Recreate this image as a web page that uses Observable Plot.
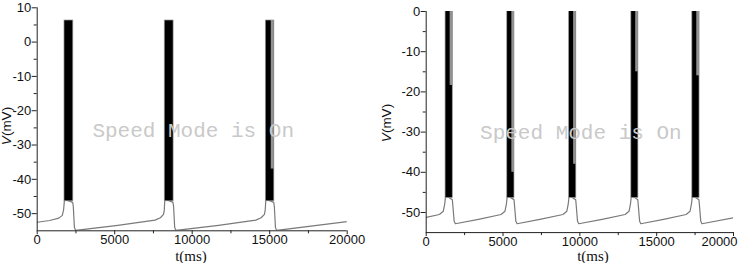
<!DOCTYPE html>
<html>
<head>
<meta charset="utf-8">
<script src="https://cdn.jsdelivr.net/npm/d3@7"></script>
<script src="https://cdn.jsdelivr.net/npm/@observablehq/plot@0.6"></script>
<style>
  html, body { margin: 0; padding: 0; background: #fff; }
  #wrap { position: relative; width: 748px; height: 263px; overflow: hidden; font-family: "Liberation Sans", Arial, sans-serif; }
  .panel { position: absolute; top: 0; }
  .ylab { position: absolute; font-size: 13.5px; color: #111; white-space: nowrap; transform: translate(-50%, -50%) rotate(-90deg); }
  .xlab { position: absolute; font-family: "Liberation Serif", "Times New Roman", serif; font-size: 15px; line-height: 12px; color: #111; white-space: nowrap; transform: translate(-50%, -50%); }
</style>
</head>
<body>
<div id="wrap">
  <div class="panel" id="left" style="left:0px"></div>
  <div class="panel" id="right" style="left:374px"></div>
  <div class="ylab" style="left:6px; top:126px;"><i>V</i>(mV)</div>
  <div class="ylab" style="left:386px; top:123px;"><i>V</i>(mV)</div>
  <div class="xlab" style="left:191px; top:256px;">t(ms)</div>
  <div class="xlab" style="left:593px; top:256px;">t(ms)</div>
</div>
<script>
// ---------- Left panel data ----------
const leftT = [0, 800, 1400, 1620, 1700, 1760, 1800, 2000, 2290, 2330, 2400, 2480, 5200, 7600, 7950, 8150, 8200, 8230, 8270, 8500, 8760, 8800, 8870, 8950, 11700, 14100, 14450, 14660, 14710, 14750, 14790, 15000, 15260, 15300, 15370, 15450, 20000];
const leftV = [-52.5, -52.0, -51.3, -50.5, -49.0, -46.0, -45.8, -46.2, -46.7, -48.0, -54.0, -54.9, -53.4, -51.9, -51.2, -50.2, -49.0, -46.0, -45.8, -46.2, -46.7, -48.0, -54.0, -54.9, -53.4, -51.9, -51.2, -50.2, -49.0, -46.0, -45.8, -46.2, -46.7, -48.0, -54.0, -54.9, -52.3];
const leftBurstStart = [1760, 8230, 14750];
const leftBurstEnd = [2330, 8800, 15300];
const leftSpikeTop = 6.3;
const leftSpikeBottom = -46.4;
const leftStripStart = [15100];
const leftStripEnd = [15300];
const leftStripLow = [-37];
const leftYTicks = [10, 0, -10, -20, -30, -40, -50];
const leftYMinor = [5, -5, -15, -25, -35, -45];
const leftXTicks = [0, 5000, 10000, 15000, 20000];

// ---------- Right panel data ----------
const rightT = [0, 860, 1110, 1200, 1260, 1300, 1500, 1700, 1740, 1820, 1900, 3400,
  4875, 5125, 5215, 5275, 5315, 5500, 5715, 5755, 5835, 5915, 7400,
  8900, 9150, 9240, 9300, 9340, 9530, 9730, 9770, 9850, 9930, 11450,
  12950, 13200, 13290, 13350, 13390, 13580, 13770, 13810, 13890, 13970, 15450,
  16920, 17170, 17260, 17320, 17360, 17550, 17750, 17790, 17870, 17950, 20000];
const rightV = [-51.2, -50.5, -49.7, -48.0, -46.0, -45.9, -46.3, -46.8, -48.5, -52.2, -52.8, -51.7,
  -50.5, -49.7, -48.0, -46.0, -45.9, -46.3, -46.8, -48.5, -52.2, -52.8, -51.7,
  -50.5, -49.7, -48.0, -46.0, -45.9, -46.3, -46.8, -48.5, -52.2, -52.8, -51.7,
  -50.5, -49.7, -48.0, -46.0, -45.9, -46.3, -46.8, -48.5, -52.2, -52.8, -51.7,
  -50.5, -49.7, -48.0, -46.0, -45.9, -46.3, -46.8, -48.5, -52.2, -52.8, -51.3];
const rightBurstStart = [1260, 5275, 9300, 13350, 17320];
const rightBurstEnd = [1730, 5745, 9770, 13810, 17790];
const rightSpikeTop = 6.0;
const rightSpikeBottom = -46.4;
const rightStripStart = [1560, 5575, 9595, 13635, 17610];
const rightStripEnd = [1730, 5745, 9770, 13810, 17790];
const rightStripLow = [-18.4, -40, -38, -15, -16];
const rightYTicks = [0, -10, -20, -30, -40, -50];
const rightYMinor = [-5, -15, -25, -35, -45];
const rightXTicks = [0, 5000, 10000, 15000];
const rightXLastTick = [20000];

// ---------- shared ----------
const xTicks = [0, 5000, 10000, 15000, 20000];
const xMinor = [2500, 7500, 12500, 17500];
const watermark = ["Speed Mode is On"];

function panel(cfg) {
  const trace = cfg.t.map((t, i) => ({t, v: cfg.v[i]}));
  const bursts = cfg.bs.map((s, i) => ({s, e: cfg.be[i]}));
  const strips = cfg.ss.map((s, i) => ({s, e: cfg.se[i], low: cfg.sl[i]}));
  const axisColor = "#222";
  const marks = [
    Plot.line(trace, {x: "t", y: "v", stroke: "#7a7a7a", strokeWidth: 1.2, clip: true}),
    Plot.rect(bursts, {x1: "s", x2: "e", y1: cfg.bot, y2: cfg.top, fill: "#000", stroke: "#9a9a9a", strokeWidth: 0.7, clip: true}),
    Plot.rect(strips, {x1: "s", x2: "e", y1: "low", y2: cfg.top, fill: "#929292", clip: true}),
    Plot.ruleX([0], {stroke: axisColor, strokeWidth: 1}),
    Plot.ruleY([cfg.ydom[0]], {stroke: axisColor, strokeWidth: 1}),
    Plot.axisY(cfg.yt, {tickSize: 5, tickPadding: 1, tickFormat: d => String(d), label: null, fontSize: 13, stroke: axisColor, fill: "#111"}),
    Plot.axisY(cfg.ym, {tickSize: 3, tickFormat: () => "", label: null, stroke: axisColor}),
    Plot.axisX(xTicks, {tickSize: 4, tickFormat: () => "", label: null, stroke: axisColor}),
    Plot.axisX(cfg.xt, {tickSize: 0, tickPadding: 4, tickFormat: d => String(d), label: null, fontSize: 13, fill: "#111"}),
    Plot.axisX(xMinor, {tickSize: 3, tickFormat: () => "", label: null, stroke: axisColor}),
    Plot.text(watermark, {frameAnchor: "middle", dx: cfg.wdx, dy: cfg.wdy, fontFamily: "'Liberation Mono', 'Courier New', monospace", fontSize: 21, fill: "#c9c9c9"})
  ];
  if (cfg.xlast) {
    marks.push(Plot.axisX(cfg.xlast, {tickSize: 0, tickPadding: 4, dx: -14, tickFormat: d => String(d), label: null, fontSize: 13, fill: "#111"}));
  }
  return Plot.plot({
    width: 374, height: 263,
    marginLeft: cfg.ml, marginRight: cfg.mr, marginTop: cfg.mt, marginBottom: cfg.mb,
    style: {background: "transparent", overflow: "visible", fontFamily: "'Liberation Sans', Arial, sans-serif"},
    x: {domain: [0, 20000]},
    y: {domain: cfg.ydom},
    marks
  });
}

document.getElementById("left").appendChild(panel({
  t: leftT, v: leftV, bs: leftBurstStart, be: leftBurstEnd, top: leftSpikeTop, bot: leftSpikeBottom,
  ss: leftStripStart, se: leftStripEnd, sl: leftStripLow, yt: leftYTicks, ym: leftYMinor, xt: leftXTicks, xlast: null,
  ydom: [-55, 10], ml: 36.7, mr: 27.3, mt: 7.3, mb: 32.7, wdx: 1, wdy: 11
}));
document.getElementById("right").appendChild(panel({
  t: rightT, v: rightV, bs: rightBurstStart, be: rightBurstEnd, top: rightSpikeTop, bot: rightSpikeBottom,
  ss: rightStripStart, se: rightStripEnd, sl: rightStripLow, yt: rightYTicks, ym: rightYMinor, xt: rightXTicks, xlast: rightXLastTick,
  ydom: [-55, 0], ml: 51.7, mr: 15, mt: 11, mb: 30.9, wdx: 1, wdy: 10
}));
</script>
</body>
</html>
